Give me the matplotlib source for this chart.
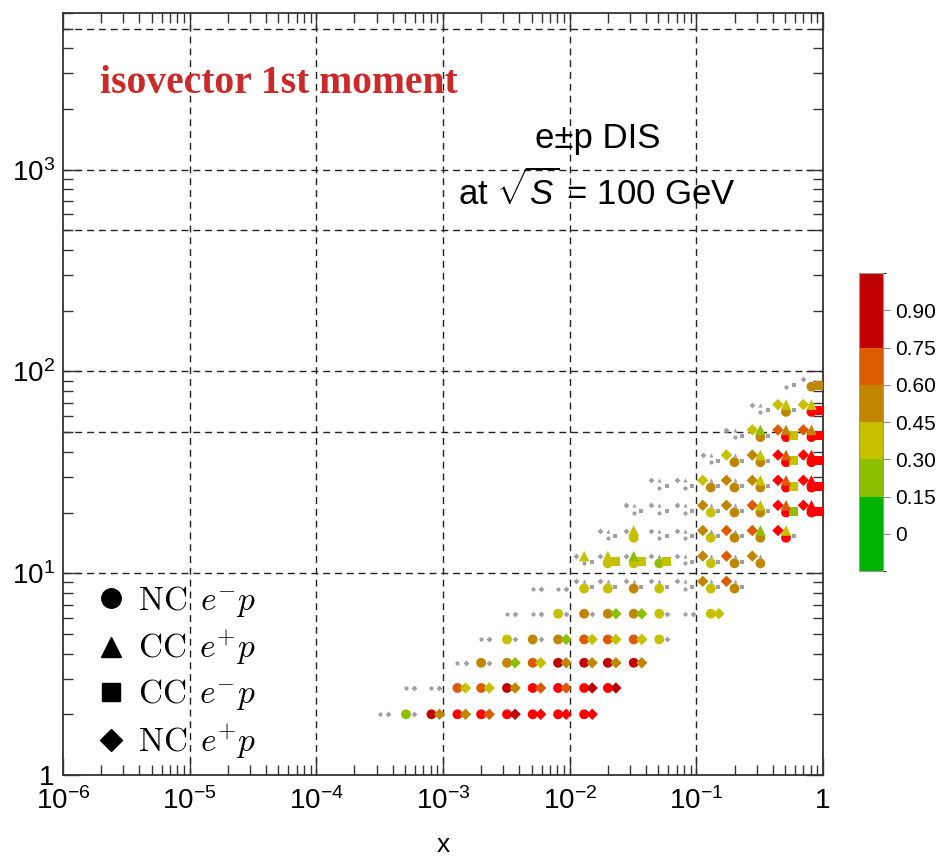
import numpy as np
import matplotlib
matplotlib.use('Agg')
import matplotlib.pyplot as plt
from matplotlib.colors import ListedColormap, BoundaryNorm
from matplotlib.lines import Line2D
from matplotlib.ticker import FixedLocator, FixedFormatter, LogLocator, NullFormatter
from matplotlib.transforms import ScaledTranslation

plt.rcParams['font.family'] = ['Liberation Sans', 'DejaVu Sans']
plt.rcParams['mathtext.fontset'] = 'custom'
plt.rcParams['mathtext.rm'] = 'Liberation Sans'
plt.rcParams['mathtext.it'] = 'Liberation Sans:italic'
plt.rcParams['mathtext.bf'] = 'Liberation Sans:bold'

# bin centres (x, Q^2)
x_bins = [3.2e-4, 5.1e-4, 8.1e-4, 1.3e-3, 2.0e-3, 3.2e-3, 5.1e-3, 8.1e-3, 0.013,
          0.020, 0.032, 0.051, 0.081, 0.13, 0.20, 0.32, 0.51, 0.81]
q2_bins = [2.0, 2.7, 3.6, 4.7, 6.3, 8.4, 11.2, 15.0, 20.0, 26.6, 35.5, 47.3, 63.1, 84.1]

# values
R, DR, O, B, Y, YG = 1.2, 0.9, 0.67, 0.52, 0.37, 0.22
g = -1.0      # below threshold -> small grey marker
_ = np.nan    # no point

# {Q^2 row: (first x bin, values)}
nc_em = {
    0: (0, [g, YG, DR, R, R, R, R, R, R]),
    1: (1, [g, g, O, O, DR, R, R, R, R]),
    2: (3, [g, B, B, O, DR, DR, DR, DR]),
    3: (4, [g, Y, B, B, O, O, O, Y]),
    4: (5, [g, g, Y, B, B, B, Y, g, Y]),
    5: (6, [g, g, Y, Y, B, Y, g, Y, B]),
    6: (8, [g, Y, Y, YG, g, Y, B, B]),
    7: (9, [g, Y, g, g, Y, B, B, R]),
    8: (10, [g, g, g, Y, B, B, R, R]),
    9: (11, [g, g, B, B, B, R, R]),
    10: (13, [g, B, B, R, R]),
    11: (14, [g, B, R, R]),
    12: (15, [g, B, R]),
    13: (16, [g, B]),
}
nc_ep = {
    0: (0, [g, g, B, B, O, DR, R, R, R]),
    1: (1, [g, g, Y, Y, B, O, O, DR, DR]),
    2: (3, [g, g, YG, Y, B, B, B, B]),
    3: (4, [g, g, g, YG, Y, Y, Y, g]),
    4: (5, [g, g, g, g, YG, YG, g, g, Y]),
    5: (6, [g, g, g, g, g, g, g, B, O]),
    6: (8, [g, g, g, g, g, B, O, B]),
    7: (9, [g, g, g, g, B, O, O, R]),
    8: (10, [g, g, g, B, B, O, R, R]),
    9: (11, [g, g, Y, B, B, R, R]),
    10: (13, [g, Y, B, R, R]),
    11: (14, [g, Y, O, O]),
    12: (15, [g, Y, Y]),
    13: (17, [g]),
}
cc_ep = {
    5: (8, [g, g, g, g, g, g, g]),
    6: (8, [Y, Y, YG, g, g, g, g, g]),
    7: (9, [g, Y, g, g, g, g, YG, Y]),
    8: (10, [g, g, g, g, g, Y, O, R]),
    9: (11, [g, g, g, g, Y, O, R]),
    10: (13, [g, g, Y, O, R]),
    11: (14, [g, YG, B, B]),
    12: (15, [g, Y, Y]),
}
cc_em = {
    5: (8, [g, g, g, g, g, g, g]),
    6: (8, [g, Y, Y, Y, g, g, g]),
    7: (9, [g, _, g, g, g, g, _, g]),
    8: (10, [g, g, g, g, g, g, YG, R]),
    9: (11, [g, g, g, g, g, Y, R]),
    10: (13, [g, g, g, Y, R]),
    11: (14, [g, g, Y, R]),
    12: (15, [g, g, R]),
    13: (16, [g, B]),
}

cbar_bounds = [-0.15, 0.15, 0.30, 0.45, 0.60, 0.75, 1.05]
cbar_colors = ['#00b300', '#8cbf00', '#c6c000', '#c18600', '#de5a00', '#c00000']
cbar_ticks = [0, 0.15, 0.30, 0.45, 0.60, 0.75, 0.90]
cbar_labels = ['0', '0.15', '0.30', '0.45', '0.60', '0.75', '0.90']

x_ticks = [1e-6, 1e-5, 1e-4, 1e-3, 1e-2, 1e-1, 1]
x_labels = ['$10^{-6}$', '$10^{-5}$', '$10^{-4}$', '$10^{-3}$', '$10^{-2}$', '$10^{-1}$', '1']
y_ticks = [1, 10, 100, 1000]
y_labels = ['1', '$10^{1}$', '$10^{2}$', '$10^{3}$']
x_grid = [1e-5, 1e-4, 1e-3, 1e-2, 1e-1]
y_grid = [10, 50, 100, 500, 1000, 5000]


def expand(table, keep=None):
    xs, qs, vs = [], [], []
    for k, (j0, vals) in table.items():
        for i, v in enumerate(vals):
            if np.isnan(v):
                continue
            if keep is not None and not keep(k, j0 + i):
                continue
            xs.append(x_bins[j0 + i])
            qs.append(q2_bins[k])
            vs.append(v)
    return np.array(xs), np.array(qs), np.array(vs)


def cells(table):
    out = set()
    for k, (j0, vals) in table.items():
        for i, v in enumerate(vals):
            if not np.isnan(v):
                out.add((k, j0 + i))
    return out


cc_cells = cells(cc_ep) | cells(cc_em)

cmap = ListedColormap(cbar_colors)
cmap.set_over('#ff0000')
norm = BoundaryNorm(cbar_bounds, cmap.N)

fig = plt.figure(figsize=(9.43, 8.6), dpi=100)
ax = fig.add_axes([0.0668, 0.0988, 0.806, 0.8864])
ax.set_xscale('log')
ax.set_yscale('log')
ax.set_xlim(1e-6, 1)
ax.set_ylim(1, 6000)

for xv in x_grid:
    ax.axvline(xv, color='#222222', lw=1.0, ls=(0, (5, 3.5)), zorder=0.5)
for yv in y_grid:
    ax.axhline(yv, color='#222222', lw=1.0, ls=(0, (5, 3.5)), zorder=0.5)


def draw(data, marker, size, dx, dy):
    xs, qs, vs = data
    if len(xs) == 0:
        return
    tr = ax.transData + ScaledTranslation(dx / 72, dy / 72, fig.dpi_scale_trans)
    grey = vs < 0
    ax.scatter(xs[grey], qs[grey], s=9, marker=marker, c='#a0a0a0',
               linewidths=0, transform=tr, zorder=3)
    ax.scatter(xs[~grey], qs[~grey], s=size, marker=marker, c=vs[~grey],
               cmap=cmap, norm=norm, linewidths=0, transform=tr, zorder=3)


draw(expand(nc_em), 'o', 50, 0, 0)
draw(expand(cc_em), 's', 42, 5.5, 1.0)
draw(expand(cc_ep), '^', 58, 0, 5.2)
draw(expand(nc_ep, keep=lambda k, j: (k, j) not in cc_cells), 'D', 34, 5.8, 0)
draw(expand(nc_ep, keep=lambda k, j: (k, j) in cc_cells), 'D', 34, -5.8, 5.2)

ax.xaxis.set_major_locator(FixedLocator(x_ticks))
ax.xaxis.set_major_formatter(FixedFormatter(x_labels))
ax.yaxis.set_major_locator(FixedLocator(y_ticks))
ax.yaxis.set_major_formatter(FixedFormatter(y_labels))
ax.xaxis.set_minor_locator(LogLocator(base=10, subs=np.arange(2, 10), numticks=20))
ax.yaxis.set_minor_locator(LogLocator(base=10, subs=np.arange(2, 10), numticks=20))
ax.xaxis.set_minor_formatter(NullFormatter())
ax.yaxis.set_minor_formatter(NullFormatter())
ax.tick_params(which='both', direction='in', top=True, right=True, color='#333333', width=1.0)
ax.tick_params(which='major', length=12, labelsize=20, pad=6)
ax.tick_params(axis='x', which='major', pad=9)
ax.tick_params(which='minor', length=7)
for sp in ax.spines.values():
    sp.set_color('#333333')
    sp.set_linewidth(1.3)

ax.set_xlabel('x', fontsize=19, labelpad=13)

ax.text(0.049, 0.895, 'isovector 1st moment', transform=ax.transAxes, color='#cc2a2a',
        fontsize=28.5, fontweight='bold', family='Liberation Serif', va='baseline')
ax.text(0.703, 0.8225, 'e±p DIS', transform=ax.transAxes, fontsize=25,
        ha='center', va='baseline')
ax.text(0.703, 0.748, r'at $\sqrt{S}$ = 100 GeV', transform=ax.transAxes, fontsize=25,
        ha='center', va='baseline')

handles = [Line2D([], [], ls='none', marker=m, color='k', markersize=ms)
           for m, ms in [('o', 14), ('^', 14), ('s', 13), ('D', 11)]]
labels = [r'$\mathrm{NC}\;\,e^{-}p$', r'$\mathrm{CC}\;\,e^{+}p$',
          r'$\mathrm{CC}\;\,e^{-}p$', r'$\mathrm{NC}\;\,e^{+}p$']
ax.legend(handles, labels, loc='lower left', bbox_to_anchor=(0.011, -0.012), frameon=False,
          prop={'size': 24, 'math_fontfamily': 'cm'}, labelspacing=0.3,
          handletextpad=0.3, handlelength=1.0, borderaxespad=0.3)

cax = fig.add_axes([0.911, 0.336, 0.0255, 0.3465])
sm = plt.cm.ScalarMappable(norm=norm, cmap=cmap)
cb = fig.colorbar(sm, cax=cax, spacing='proportional', ticks=cbar_ticks)
cb.ax.set_yticklabels(cbar_labels)
cb.ax.tick_params(length=5, labelsize=15, color='#888888', width=0.8)
cb.outline.set_edgecolor('#999999')
cb.outline.set_linewidth(0.8)

fig.savefig('out.png', dpi=100)
